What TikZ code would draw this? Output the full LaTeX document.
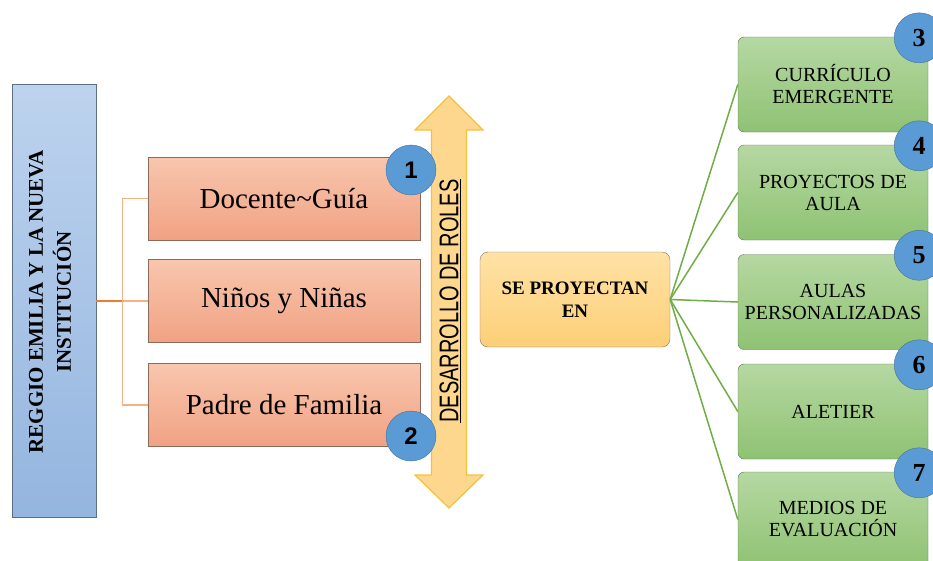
\documentclass[tikz,border=0pt]{standalone}
\usepackage{fontspec}
\usepackage{graphicx}
\setmainfont{Liberation Serif}
\setsansfont{Liberation Sans}
\usetikzlibrary{positioning}

\definecolor{bluetop}{HTML}{BDD3EE}
\definecolor{bluebot}{HTML}{94B5DF}
\definecolor{bluedraw}{HTML}{5E6E82}
\definecolor{rosetop}{HTML}{F8C6AE}
\definecolor{rosebot}{HTML}{F1A283}
\definecolor{rosedraw}{HTML}{8C6A5C}
\definecolor{greentop}{HTML}{B5D8A2}
\definecolor{greenbot}{HTML}{8FC273}
\definecolor{greendraw}{HTML}{5E7556}
\definecolor{sandtop}{HTML}{FFE2A6}
\definecolor{sandbot}{HTML}{FCCF78}
\definecolor{sanddraw}{HTML}{7F7560}
\definecolor{arrowfill}{HTML}{FDD78E}
\definecolor{arrowdraw}{HTML}{F7C03A}
\definecolor{badgefill}{HTML}{5B9BD5}
\definecolor{badgedraw}{HTML}{41719C}
\definecolor{trunk}{HTML}{ED7D31}
\definecolor{twig}{HTML}{F4B183}
\definecolor{leaf}{HTML}{70AD47}

\begin{document}
\begin{tikzpicture}[x=1pt,y=-1pt,
    bluebox/.style = {draw=bluedraw,
        top color=bluetop, bottom color=bluebot,
        minimum width=84pt, minimum height=433pt},
    rolebox/.style = {draw=rosedraw,
        top color=rosetop, bottom color=rosebot,
        minimum width=272pt, minimum height=83pt,
        font=\fontsize{29}{33}\selectfont},
    areabox/.style = {draw=greendraw, rounded corners=6pt,
        top color=greentop, bottom color=greenbot,
        minimum width=190pt, minimum height=95pt,
        inner sep=2pt, align=center,
        font=\fontsize{20}{22}\selectfont},
    badge/.style = {circle, draw=badgedraw, fill=badgefill,
        minimum size=50pt, inner sep=0pt},
    trunkline/.style = {draw=trunk, line width=1.6pt},
    twigline/.style = {draw=twig, line width=1.3pt},
    leafline/.style = {draw=leaf, line width=1.5pt}]

\useasboundingbox (0,0) rectangle (933,560);

% Main title
\node[bluebox] (reggio) at (54,301) {};
\node[rotate=90, align=center,
    font=\bfseries\fontsize{21}{28}\selectfont] (reggiotxt) at (50,302)
    {REGGIO EMILIA Y LA NUEVA\\INSTITUCIÓN};

% Roles
\node[rolebox] (docente) at (284,198.5) {Docente\textasciitilde Guía};
\node[rolebox] (ninos) at (284,301) {Niños y Niñas};
\node[rolebox] (padre) at (284,405) {Padre de Familia};

% Bracket
\draw[trunkline] (reggio.east) -- ++(26,0) coordinate (fork);
\draw[twigline] (fork) |- (docente.west);
\draw[twigline] (fork) -- (ninos.west);
\draw[twigline] (fork) |- (padre.west);

% Double arrow
\draw[fill=arrowfill, draw=arrowdraw, line width=1.2pt, line join=miter]
    (449,96) -- (483,130) -- (466.5,130) -- (466.5,475) -- (483,475)
    -- (449,508) -- (415,475) -- (431.5,475) -- (431.5,130) -- (415,130)
    -- cycle;
\node[rotate=90, font=\sffamily\fontsize{27}{30}\selectfont]
    (roles) at (450,301) {\scalebox{0.74}[1]{\underline{DESARROLLO DE ROLES}}};

% Badges 1 and 2
\node[badge, font=\sffamily\bfseries\fontsize{24}{24}\selectfont]
    (b1) at (411,170) {1};
\node[badge, font=\sffamily\bfseries\fontsize{24}{24}\selectfont]
    (b2) at (411,436) {2};

% Centre box
\node[draw=sanddraw, rounded corners=8pt,
    top color=sandtop, bottom color=sandbot,
    minimum width=190pt, minimum height=95pt, align=center,
    font=\bfseries\fontsize{19}{23}\selectfont] (proy) at (575,299.5)
    {SE PROYECTAN\\EN};

% Areas
\node[areabox] (curri) at (833,84.5) {CURRÍCULO\\EMERGENTE};
\node[areabox] (proyectos) at (833,192.5) {PROYECTOS DE\\AULA};
\node[areabox] (aulas) at (833,302) {AULAS\\PERSONALIZADAS};
\node[areabox] (aletier) at (833,411.5) {ALETIER};
\node[areabox] (medios) at (833,519.5) {MEDIOS DE\\EVALUACIÓN};

\foreach \n in {curri,proyectos,aulas,aletier,medios}
    \draw[leafline] (proy.east) -- (\n.west);

% Badges 3 to 7
\foreach \n/\k in {curri/3,proyectos/4,aulas/5,aletier/6,medios/7}
    \node[badge, font=\bfseries\fontsize{26}{26}\selectfont]
        (b\k) at ([shift={(-9,1)}]\n.north east) {\k};

\end{tikzpicture}
\end{document}
